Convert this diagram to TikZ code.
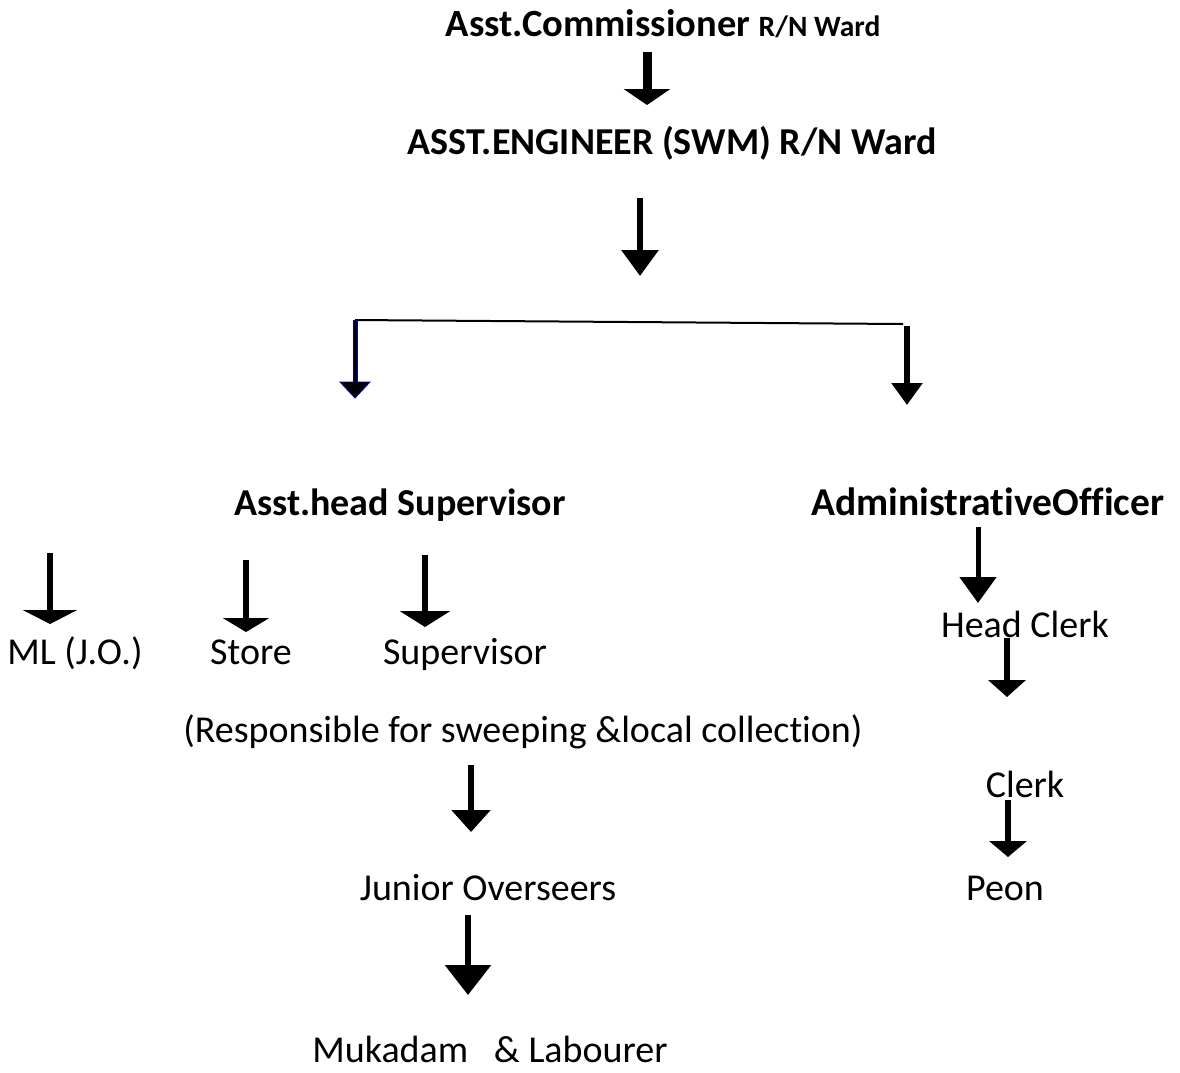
\documentclass[tikz,border=0pt]{standalone}
\usepackage{fontspec}
\setmainfont{Carlito}[Ligatures={NoCommon}]
\usetikzlibrary{arrows.meta,calc}
\tikzset{
  lbl/.style={inner sep=0pt, anchor=base, font=\fontsize{38}{45}\selectfont},
  blbl/.style={inner sep=0pt, anchor=base, font=\fontsize{38}{45}\selectfont\bfseries},
  arr/.style n args={3}{line width=#3pt, -{Triangle[width=#1pt, length=#2pt]}},
  bluearr/.style={fill=black, draw=blue!65!black, line width=0.8pt},
}
\begin{document}
\begin{tikzpicture}[x=1pt, y=-1pt]
\useasboundingbox (0,0) rectangle (1180,1072);
\fill[white] (0,0) rectangle (1180,1072);

% texts
\node[inner sep=0pt, anchor=base] (ac) at (663,36) {\bfseries\fontsize{38.5}{45}\selectfont Asst.Commissioner \fontsize{29.5}{34}\selectfont R/N Ward};
\node[blbl] (ae) at (672,154) {ASST.ENGINEER (SWM) R/N Ward};
\node[blbl] (ahs) at (400,515) {Asst.head Supervisor};
\node[blbl, font=\fontsize{39.5}{46}\selectfont\bfseries] (ao) at (988,515) {AdministrativeOfficer};
\node[lbl] (ml) at (75,664) {ML (J.O.)};
\node[lbl] (st) at (251,664) {Store};
\node[lbl] (sv) at (465,664) {Supervisor};
\node[lbl] (hc) at (1025,637) {Head Clerk};
\node[lbl] (resp) at (523,742) {(Responsible for sweeping \&local collection)};
\node[lbl] (cl) at (1025,797) {Clerk};
\node[lbl] (jo) at (488,900) {Junior Overseers};
\node[lbl] (pe) at (1005,900) {Peon};
\node[lbl] (mk) at (490,1062) {Mukadam\ \ \ \& Labourer};

% arrow coordinates
\coordinate (a1s) at (647,52);  \coordinate (a1e) at (647,105);
\coordinate (a2s) at (640,198); \coordinate (a2e) at (640,276);
\coordinate (hl) at (355,320);  \coordinate (hr) at (903,324);
\coordinate (lae) at (355,398);
\coordinate (ras) at (907,326); \coordinate (rae) at (907,405);
\coordinate (mls) at (50,553);  \coordinate (mle) at (50,624);
\coordinate (sts) at (246,560); \coordinate (ste) at (246,632);
\coordinate (svs) at (425,555); \coordinate (sve) at (425,627);
\coordinate (aos) at (978,527); \coordinate (aoe) at (978,603);
\coordinate (hcs) at (1007,638);\coordinate (hce) at (1007,697);
\coordinate (rps) at (471,765); \coordinate (rpe) at (471,832);
\coordinate (cls) at (1008,800);\coordinate (cle) at (1008,857);
\coordinate (jos) at (468,915); \coordinate (joe) at (468,995);

% connectors
\draw[arr={46}{16}{9}] (a1s) -- (a1e);
\draw[arr={36}{26}{6}] (a2s) -- (a2e);
\draw[line width=2pt] (hl) -- (hr);
\filldraw[bluearr] ($(hl)+(-2,0)$) rectangle ($(lae)+(2,-15)$);
\filldraw[bluearr] ($(lae)+(-15,-16)$) -- (lae) -- ($(lae)+(15,-16)$) -- cycle;
\draw[arr={30}{22}{6}] (ras) -- (rae);
\draw[arr={54}{14}{6}] (mls) -- (mle);
\draw[arr={46}{14}{6}] (sts) -- (ste);
\draw[arr={50}{16}{6}] (svs) -- (sve);
\draw[arr={36}{26}{5}] (aos) -- (aoe);
\draw[arr={37}{17}{6}] (hcs) -- (hce);
\draw[arr={38}{22}{6}] (rps) -- (rpe);
\draw[arr={37}{16}{6}] (cls) -- (cle);
\draw[arr={45}{30}{6}] (jos) -- (joe);
\end{tikzpicture}
\end{document}
